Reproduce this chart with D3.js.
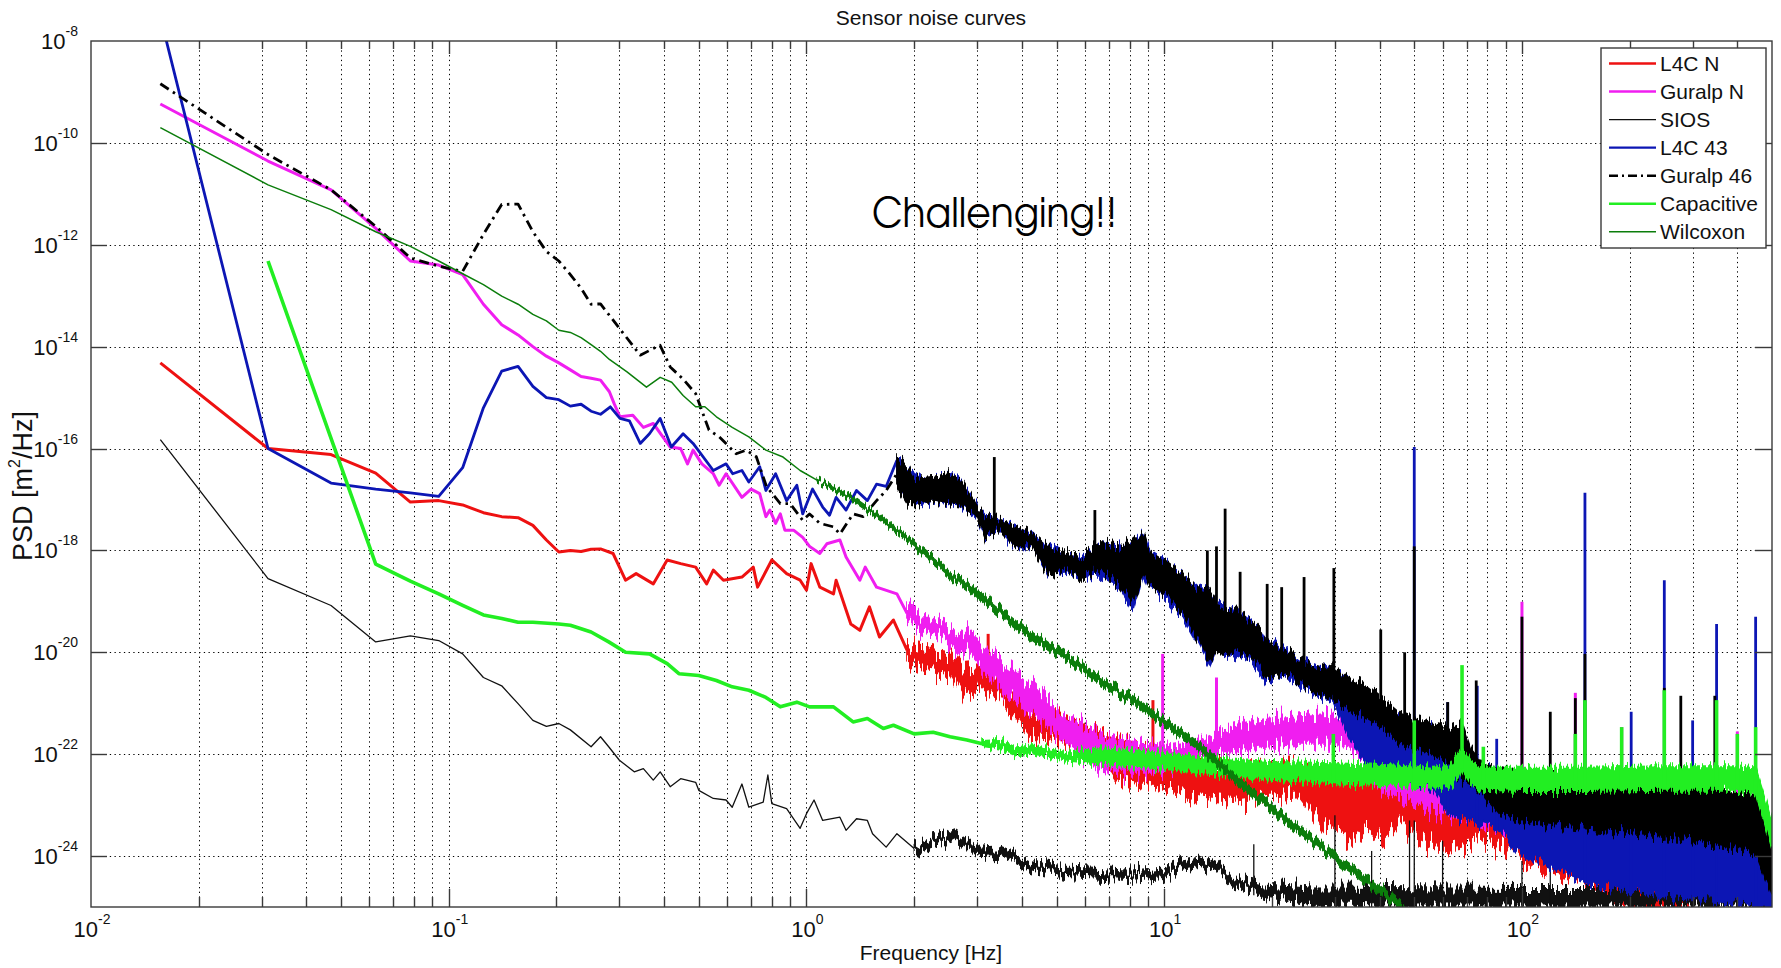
<!DOCTYPE html>
<html>
<head>
<meta charset="utf-8">
<script src="https://cdn.jsdelivr.net/npm/d3@7"></script>
<style>
  html, body { margin: 0; padding: 0; background: #ffffff; }
  svg { display: block; font-family: "Liberation Sans", Arial, Helvetica, sans-serif; }
</style>
</head>
<body>
<svg id="chart" width="1781" height="968"></svg>
<script>
// ---------------------------------------------------------------------------
// Sensor noise PSD curves. Each sensor has:
//   *Trace  : [frequency Hz, PSD m^2/Hz] – the resolved low-frequency trace
//   *Band   : [frequency Hz, low PSD, high PSD] – extent of the dense noisy trace
//   *Spikes : [frequency Hz, peak PSD] – narrow lines rising out of the band
// ---------------------------------------------------------------------------

const seriesNames = ["L4C N", "Guralp N", "SIOS", "L4C 43", "Guralp 46", "Capacitive", "Wilcoxon"];

const xTickValues = [0.01, 0.1, 1, 10, 100];
const yTickValues = [1e-24, 1e-22, 1e-20, 1e-18, 1e-16, 1e-14, 1e-12, 1e-10, 1e-8];

// L4C N
const l4cNTrace = [
  [0.015625, 4.8e-15], [0.03125, 1.0e-16], [0.046875, 7.6e-17], [0.0625, 3.3e-17],
  [0.078125, 8.9e-18], [0.09375, 9.5e-18], [0.109375, 7.8e-18], [0.125, 5.5e-18],
  [0.140625, 4.6e-18], [0.15625, 4.4e-18], [0.171875, 3.1e-18], [0.1875, 1.6e-18],
  [0.203125, 9.3e-19], [0.21875, 1.0e-18], [0.234375, 9.5e-19], [0.25, 1.05e-18],
  [0.265625, 1.07e-18], [0.288, 8.7e-19], [0.312, 2.6e-19], [0.334, 3.5e-19],
  [0.373, 2.2e-19], [0.408, 6.5e-19], [0.445, 5.5e-19], [0.49, 4.7e-19],
  [0.526, 2.2e-19], [0.549, 4.1e-19], [0.586, 2.6e-19], [0.66, 3.0e-19],
  [0.71, 4.7e-19], [0.73, 1.9e-19], [0.80, 6.5e-19], [0.88, 3.5e-19],
  [0.96, 2.6e-19], [1.0, 1.66e-19], [1.03, 5.5e-19], [1.09, 1.9e-19],
  [1.19, 1.4e-19], [1.21, 2.6e-19], [1.33, 3.6e-20], [1.41, 2.7e-20],
  [1.5, 7.8e-20], [1.6, 2.0e-20], [1.75, 4.3e-20], [1.91, 1.1e-20]
];
const l4cNBand = [
  [1.91, 7.1e-21, 1.4e-20], [2.04, 5.0e-21, 1.26e-20], [2.52, 3.8e-21, 9.5e-21],
  [2.75, 1.4e-21, 4.5e-21], [3.1, 1.8e-21, 5.0e-21], [3.46, 1.26e-21, 2.8e-21],
  [4.2, 2.2e-22, 7.1e-22], [5.29, 1.9e-22, 4.5e-22], [6.61, 1.0e-22, 2.8e-22],
  [7.3, 3.2e-23, 2.0e-22], [9.1, 2.5e-23, 1.26e-22], [10.15, 2.0e-23, 8.9e-23],
  [12.6, 1.4e-23, 7.1e-23], [15.6, 1.2e-23, 5.6e-23], [19.3, 1.5e-23, 6.0e-23],
  [23.9, 1.7e-23, 6.0e-23], [28, 4.0e-24, 5.0e-23], [33, 2.0e-24, 3.2e-23],
  [36.8, 3.4e-24, 3.2e-23], [41, 2.2e-24, 4.0e-23], [45.6, 4.5e-24, 5.0e-23],
  [50.8, 2.5e-24, 5.6e-23], [56.5, 1.8e-24, 4.5e-23], [62.9, 1.6e-24, 3.5e-23],
  [70, 1.8e-24, 1.8e-23], [78, 2.0e-24, 7.0e-24], [86.8, 1.8e-24, 8.0e-24],
  [100, 7.0e-25, 8.0e-24], [120, 5.0e-25, 7.0e-24], [150, 3.5e-25, 4.0e-24],
  [180, 1.8e-25, 1.5e-24], [230, 1.0e-25, 6.0e-25], [300, 1.0e-25, 1.0e-25]
];
const l4cNSpikes = [[3.22, 2.3e-20], [9.3, 1.15e-21]];

// Guralp N
const guralpNTrace = [
  [0.015625, 5.8e-10], [0.03125, 4.4e-11], [0.046875, 1.2e-11], [0.0625, 2.1e-12],
  [0.078125, 4.8e-13], [0.09375, 4.0e-13], [0.109375, 2.6e-13], [0.125, 6.8e-14],
  [0.140625, 2.7e-14], [0.15625, 1.7e-14], [0.171875, 1.0e-14], [0.1875, 6.5e-15],
  [0.203125, 4.8e-15], [0.21875, 3.5e-15], [0.234375, 2.6e-15], [0.25, 2.4e-15],
  [0.265625, 2.2e-15], [0.28125, 1.3e-15], [0.29, 7.6e-16], [0.301, 4.2e-16],
  [0.327, 4.5e-16], [0.350, 2.6e-16], [0.373, 3.1e-16], [0.416, 1.07e-16],
  [0.445, 1.0e-16], [0.465, 5.0e-17], [0.482, 9.3e-17], [0.51, 5.0e-17],
  [0.549, 3.2e-17], [0.57, 1.9e-17], [0.596, 3.2e-17], [0.66, 1.1e-17],
  [0.70, 1.6e-17], [0.74, 1.3e-17], [0.77, 4.6e-18], [0.79, 6.2e-18],
  [0.82, 3.4e-18], [0.845, 5.2e-18], [0.87, 2.5e-18], [0.92, 2.5e-18],
  [0.976, 1.8e-18], [1.02, 1.2e-18], [1.09, 8.7e-19], [1.14, 1.35e-18],
  [1.24, 1.6e-18], [1.29, 7.4e-19], [1.41, 2.6e-19], [1.46, 4.7e-19],
  [1.57, 1.9e-19], [1.79, 1.4e-19], [1.91, 5.8e-20]
];
const guralpNBand = [
  [1.91, 4.5e-20, 8.9e-20], [2.0, 3.8e-20, 8.3e-20], [2.26, 2.2e-20, 4.0e-20],
  [2.81, 1.0e-20, 2.5e-20], [3.46, 2.0e-21, 7.1e-21], [4.27, 6.3e-22, 2.5e-21],
  [5.29, 1.8e-22, 5.6e-22], [6.61, 5.0e-23, 2.5e-22], [7.3, 4.5e-23, 2.0e-22],
  [9.1, 4.5e-23, 1.6e-22], [10.15, 5.0e-23, 1.4e-22], [12.6, 8.9e-23, 1.8e-22],
  [15.6, 1.1e-22, 3.5e-22], [19.3, 1.4e-22, 5.0e-22], [23.9, 1.6e-22, 5.6e-22],
  [29.7, 1.6e-22, 6.3e-22], [33, 1.4e-22, 4.0e-22], [36.8, 6.3e-23, 1.8e-22],
  [41, 2.0e-23, 8.0e-23], [50, 1.0e-23, 4.0e-23], [70, 6.3e-24, 2.5e-23],
  [100, 2.5e-24, 1.6e-23], [150, 1.26e-24, 1.0e-23], [200, 8.0e-25, 8.0e-24],
  [300, 5.0e-25, 6.3e-24], [450, 3.2e-25, 5.0e-24], [500, 1.6e-25, 2.5e-24]
];
const guralpNSpikes = [[9.9, 9.3e-21], [14, 3.2e-21], [100, 9.8e-20], [141, 1.6e-21], [190, 3.4e-22], [400, 2.8e-22]];

// SIOS
const siosTrace = [
  [0.015625, 1.5e-16], [0.03125, 2.8e-19], [0.046875, 8.3e-20], [0.0625, 1.6e-20],
  [0.078125, 2.1e-20], [0.09375, 1.7e-20], [0.109375, 9.3e-21], [0.125, 3.2e-21],
  [0.140625, 2.2e-21], [0.15625, 9.8e-22], [0.171875, 4.6e-22], [0.1875, 3.5e-22],
  [0.203125, 4.0e-22], [0.21875, 3.0e-22], [0.25, 1.4e-22], [0.265625, 2.2e-22],
  [0.28, 1.4e-22], [0.30, 7.6e-23], [0.33, 4.5e-23], [0.35, 5.2e-23],
  [0.373, 3.1e-23], [0.39, 4.5e-23], [0.416, 2.3e-23], [0.445, 3.3e-23],
  [0.49, 2.8e-23], [0.50, 1.95e-23], [0.549, 1.35e-23], [0.596, 1.26e-23],
  [0.62, 9.1e-24], [0.66, 2.6e-23], [0.69, 9.1e-24], [0.757, 1.15e-23],
  [0.78, 3.9e-23], [0.80, 1.07e-23], [0.88, 8.5e-24], [0.96, 3.5e-24],
  [1.0, 6.8e-24], [1.05, 1.26e-23], [1.11, 5.0e-24], [1.24, 5.8e-24],
  [1.29, 3.2e-24], [1.38, 5.4e-24], [1.48, 5.0e-24], [1.53, 2.75e-24],
  [1.67, 1.5e-24], [1.79, 2.75e-24], [2.0, 1.4e-24]
];
const siosBand = [
  [2.0, 1.17e-24, 1.7e-24], [2.26, 1.6e-24, 2.3e-24], [2.56, 2.2e-24, 3.3e-24],
  [2.81, 1.5e-24, 2.1e-24], [3.04, 9.3e-25, 1.35e-24], [3.46, 1.0e-24, 1.45e-24],
  [4.27, 5.6e-25, 8.1e-25], [5.29, 4.0e-25, 5.8e-25], [6.61, 3.7e-25, 5.4e-25],
  [8, 3.5e-25, 5.0e-25], [10, 4.0e-25, 5.8e-25], [11.3, 5.6e-25, 8.1e-25],
  [12.6, 6.3e-25, 9.1e-25], [14, 4.7e-25, 6.8e-25], [15.6, 2.6e-25, 3.8e-25],
  [19, 1.7e-25, 2.8e-25], [25, 1.1e-25, 2.5e-25], [40, 1.0e-25, 2.4e-25],
  [100, 1.0e-25, 2.3e-25], [200, 1.0e-25, 2.3e-25], [500, 1.0e-25, 2.0e-25]
];
const siosSpikes = [[17.8, 1.7e-24], [30, 6.3e-24], [38, 1.26e-24], [48.5, 5.0e-24], [50, 5.0e-24], [60, 2.0e-24], [100, 8.0e-25], [120, 1.0e-24]];

// L4C 43
const l4c43Trace = [
  [0.015625, 3.0e-8], [0.03125, 1.0e-16], [0.046875, 2.1e-17], [0.0625, 1.6e-17],
  [0.078125, 1.35e-17], [0.09375, 1.15e-17], [0.109375, 4.2e-17], [0.125, 6.3e-16],
  [0.140625, 3.3e-15], [0.15625, 4.1e-15], [0.171875, 1.66e-15], [0.1875, 1.0e-15],
  [0.203125, 9.1e-16], [0.21875, 6.8e-16], [0.234375, 7.4e-16], [0.25, 5.4e-16],
  [0.265625, 4.7e-16], [0.283, 6.6e-16], [0.301, 3.9e-16], [0.320, 3.5e-16],
  [0.343, 1.26e-16], [0.364, 1.95e-16], [0.390, 3.9e-16], [0.419, 1.07e-16],
  [0.452, 1.95e-16], [0.482, 1.26e-16], [0.549, 3.7e-17], [0.596, 5.0e-17],
  [0.622, 3.2e-17], [0.66, 3.7e-17], [0.69, 2.2e-17], [0.74, 4.4e-17],
  [0.77, 1.5e-17], [0.82, 3.2e-17], [0.88, 9.5e-18], [0.94, 1.9e-17],
  [0.976, 5.2e-18], [1.04, 1.6e-17], [1.11, 7.1e-18], [1.16, 4.9e-18],
  [1.21, 1.1e-17], [1.29, 6.2e-18], [1.38, 1.5e-17], [1.48, 9.5e-18],
  [1.57, 2.0e-17], [1.67, 1.8e-17], [1.79, 5.9e-17]
];
const l4c43Band = [
  [1.79, 2.5e-17, 6.3e-17], [1.91, 1.0e-17, 4.4e-17], [2.13, 8.3e-18, 2.4e-17],
  [2.26, 9.5e-18, 2.4e-17], [2.52, 8.3e-18, 3.2e-17], [2.69, 7.9e-18, 2.4e-17],
  [2.81, 6.2e-18, 1.5e-17], [3.0, 4.6e-18, 7.1e-18], [3.17, 1.8e-18, 4.6e-18],
  [3.46, 2.5e-18, 3.9e-18], [3.84, 1.2e-18, 2.9e-18], [4.27, 1.2e-18, 2.1e-18],
  [4.75, 3.5e-19, 1.2e-18], [5.29, 4.0e-19, 8.7e-19], [5.88, 3.0e-19, 7.4e-19],
  [6.61, 3.2e-19, 1.35e-18], [7.52, 1.9e-19, 1.2e-18], [8.19, 6.6e-20, 1.35e-18],
  [8.74, 3.9e-19, 2.4e-18], [9.12, 1.8e-19, 8.9e-19], [10.15, 1.15e-19, 5.6e-19],
  [11.3, 4.8e-20, 3.1e-19], [12.6, 1.25e-20, 1.7e-19], [13.4, 5.2e-21, 1.5e-19],
  [14.0, 1.1e-20, 9.5e-20], [15.6, 9.1e-21, 7.0e-20], [17.4, 6.7e-21, 3.8e-20],
  [18.6, 3.7e-21, 3.0e-20], [19.3, 2.6e-21, 1.8e-20], [21.5, 3.7e-21, 1.2e-20],
  [23.9, 2.3e-21, 7.2e-21], [26.7, 1.5e-21, 5.4e-21], [29.7, 1.05e-21, 4.6e-21],
  [33, 2.0e-22, 2.5e-21], [36.8, 6.3e-23, 1.0e-21], [41, 5.0e-23, 6.3e-22],
  [45.6, 4.0e-23, 5.0e-22], [50.8, 2.5e-23, 4.0e-22], [56.5, 2.0e-23, 3.2e-22],
  [62.9, 6.3e-24, 2.0e-22], [70, 5.0e-24, 1.0e-22], [86.8, 3.2e-24, 4.0e-23],
  [100, 1.0e-24, 2.5e-23], [120, 6.3e-25, 1.6e-23], [150, 3.2e-25, 1.0e-23],
  [190, 2.0e-25, 8.0e-24], [250, 1.6e-25, 6.3e-24], [350, 1.3e-25, 4.0e-24],
  [450, 1.0e-25, 2.5e-24], [500, 1.0e-25, 5.0e-25]
];
const l4c43Spikes = [[50, 1.07e-16], [62, 1.05e-21], [75, 2.2e-21], [85, 2.0e-22], [150, 1.35e-17],
  [202, 6.8e-22], [250, 2.6e-19], [300, 4.6e-22], [350, 3.6e-20], [450, 5.0e-20]];

// Guralp 46
const guralp46Trace = [
  [0.015625, 1.45e-9], [0.03125, 5.9e-11], [0.046875, 1.2e-11], [0.0625, 2.3e-12],
  [0.078125, 5.5e-13], [0.09375, 3.8e-13], [0.109375, 3.0e-13], [0.125, 1.6e-12],
  [0.140625, 6.2e-12], [0.15625, 6.3e-12], [0.171875, 1.8e-12], [0.1875, 7.4e-13],
  [0.203125, 4.8e-13], [0.21875, 2.6e-13], [0.234375, 1.4e-13], [0.25, 6.8e-14],
  [0.265625, 6.9e-14], [0.343, 6.8e-15], [0.3895, 1.07e-14], [0.416, 4.0e-15],
  [0.452, 2.3e-15], [0.49, 1.2e-15], [0.534, 2.3e-16], [0.57, 1.7e-16],
  [0.636, 7.9e-17], [0.679, 9.3e-17], [0.724, 6.9e-17], [0.773, 1.8e-17],
  [0.845, 8.3e-18], [0.90, 8.3e-18], [0.976, 3.9e-18], [1.02, 5.2e-18],
  [1.09, 3.4e-18], [1.19, 2.9e-18], [1.24, 2.1e-18], [1.35, 5.2e-18],
  [1.44, 4.6e-18], [1.57, 9.5e-18], [1.67, 1.5e-17], [1.79, 3.2e-17]
];
const guralp46Band = [
  [1.79, 1.8e-17, 6.3e-17], [1.91, 8.3e-18, 4.4e-17], [2.0, 7.9e-18, 2.5e-17],
  [2.26, 9.5e-18, 2.8e-17], [2.52, 8.3e-18, 3.2e-17], [2.69, 7.9e-18, 2.4e-17],
  [2.81, 6.2e-18, 1.5e-17], [3.0, 4.6e-18, 7.1e-18], [3.17, 1.8e-18, 4.6e-18],
  [3.46, 2.5e-18, 3.9e-18], [3.84, 1.2e-18, 2.9e-18], [4.27, 1.2e-18, 2.1e-18],
  [4.75, 3.5e-19, 1.2e-18], [5.29, 4.0e-19, 8.7e-19], [5.88, 3.0e-19, 7.4e-19],
  [6.61, 4.0e-19, 1.35e-18], [7.52, 2.2e-19, 1.2e-18], [8.19, 1.0e-19, 1.6e-18],
  [8.74, 3.9e-19, 2.2e-18], [9.12, 2.1e-19, 8.9e-19], [10.15, 1.3e-19, 5.6e-19],
  [11.3, 5.2e-20, 3.1e-19], [12.6, 1.7e-20, 1.7e-19], [13.4, 6.6e-21, 1.5e-19],
  [14.0, 1.15e-20, 9.5e-20], [15.6, 1.05e-20, 7.0e-20], [17.4, 8.3e-21, 3.8e-20],
  [19.3, 3.3e-21, 1.8e-20], [21.5, 4.1e-21, 1.2e-20], [23.9, 2.6e-21, 7.2e-21],
  [26.7, 1.65e-21, 5.4e-21], [29.7, 1.15e-21, 4.6e-21], [33, 7.0e-22, 3.0e-21],
  [36.8, 5.2e-22, 2.2e-21], [41, 3.3e-22, 1.2e-21], [45.6, 1.6e-22, 6.3e-22],
  [50.8, 1.26e-22, 5.0e-22], [56.5, 1.0e-22, 4.0e-22], [62.9, 6.3e-23, 3.2e-22],
  [68, 3.2e-23, 4.0e-22], [72, 2.5e-23, 1.26e-22], [78, 1.6e-23, 6.3e-23],
  [86.8, 6.3e-24, 5.0e-23], [100, 5.0e-24, 4.0e-23], [150, 3.5e-24, 3.2e-23],
  [200, 2.8e-24, 3.2e-23], [300, 2.0e-24, 2.5e-23], [450, 1.1e-24, 1.6e-23],
  [500, 1.6e-25, 3.2e-24]
];
const guralp46Spikes = [[3.35, 6.8e-17], [6.4, 6.2e-18], [13.2, 1.0e-18], [14.0, 1.2e-18], [14.8, 6.6e-18],
  [16.3, 3.8e-19], [19.4, 2.2e-19], [21.3, 1.9e-19], [24.6, 3.0e-19], [29.8, 4.5e-19],
  [40.3, 2.8e-20], [47, 1.0e-20], [50, 1.2e-18], [62, 1.05e-21], [74.5, 2.8e-21],
  [100, 5.0e-20], [120, 6.8e-22], [141, 1.26e-21], [150, 9.3e-21], [250, 2.0e-21],
  [278, 1.4e-21], [346, 1.4e-21], [450, 3.2e-22]];

// Capacitive
const capacitiveTrace = [
  [0.03125, 4.8e-13], [0.0625, 5.4e-19], [0.078125, 2.5e-19], [0.09375, 1.4e-19],
  [0.109375, 8.3e-20], [0.125, 5.4e-20], [0.140625, 4.6e-20], [0.15625, 3.9e-20],
  [0.171875, 3.9e-20], [0.203125, 3.6e-20], [0.21875, 3.4e-20], [0.25, 2.5e-20],
  [0.28, 1.6e-20], [0.312, 1.0e-20], [0.364, 9.3e-21], [0.408, 6.0e-21],
  [0.44, 3.8e-21], [0.50, 3.5e-21], [0.56, 2.8e-21], [0.62, 2.1e-21],
  [0.69, 1.8e-21], [0.77, 1.3e-21], [0.845, 8.5e-22], [0.94, 1.05e-21],
  [1.02, 8.5e-22], [1.19, 8.5e-22], [1.35, 4.3e-22], [1.48, 5.0e-22],
  [1.64, 3.2e-22], [1.75, 3.7e-22], [2.0, 2.5e-22], [2.26, 2.7e-22],
  [2.52, 2.2e-22], [2.81, 1.9e-22], [3.1, 1.6e-22]
];
const capacitiveBand = [
  [3.1, 1.45e-22, 1.8e-22], [3.46, 1.3e-22, 1.9e-22], [3.84, 9.5e-23, 1.35e-22],
  [4.27, 1.05e-22, 1.5e-22], [5.29, 7.5e-23, 1.05e-22], [6.61, 6.6e-23, 1.3e-22],
  [8, 5.8e-23, 1.2e-22], [10, 5.2e-23, 1.05e-22], [13, 4.2e-23, 8.5e-23],
  [19.3, 3.2e-23, 7.1e-23], [30, 2.7e-23, 6.6e-23], [45, 2.4e-23, 6.0e-23],
  [56.5, 2.2e-23, 5.4e-23], [63, 2.4e-23, 6.0e-23], [66, 3.4e-23, 9.5e-23],
  [68, 5.2e-23, 1.3e-22], [72, 2.6e-23, 7.1e-23], [78, 2.0e-23, 5.4e-23],
  [100, 1.9e-23, 5.4e-23], [150, 1.9e-23, 5.4e-23], [250, 2.0e-23, 5.8e-23],
  [400, 2.0e-23, 5.8e-23], [450, 1.7e-23, 5.2e-23], [475, 5.5e-24, 1.6e-23],
  [500, 1.6e-24, 5.0e-24]
];
const capacitiveSpikes = [[29.7, 2.5e-22], [50, 4.6e-22], [68, 5.6e-21], [78, 1.4e-22], [141, 2.5e-22],
  [150, 1.15e-21], [190, 3.4e-22], [250, 1.8e-21], [350, 1.15e-21], [400, 2.5e-22], [450, 3.4e-22]];

// Wilcoxon
const wilcoxonTrace = [
  [0.015625, 2.0e-10], [0.03125, 1.5e-11], [0.046875, 4.9e-12], [0.0625, 1.8e-12],
  [0.078125, 9.3e-13], [0.09375, 4.8e-13], [0.109375, 2.7e-13], [0.125, 1.65e-13],
  [0.140625, 9.8e-14], [0.15625, 6.8e-14], [0.171875, 4.3e-14], [0.1875, 3.2e-14],
  [0.203125, 2.1e-14], [0.21875, 1.9e-14], [0.234375, 1.5e-14], [0.25, 1.1e-14],
  [0.265625, 8.1e-15], [0.28125, 5.6e-15], [0.315, 3.2e-15], [0.357, 1.6e-15],
  [0.39, 2.5e-15], [0.42, 2.0e-15], [0.452, 1.1e-15], [0.49, 6.6e-16],
  [0.52, 6.6e-16], [0.56, 4.2e-16], [0.62, 2.6e-16], [0.69, 1.7e-16],
  [0.77, 9.3e-17], [0.86, 6.8e-17], [0.96, 3.7e-17], [1.07, 2.4e-17]
];
const wilcoxonBand = [
  [1.07, 2.2e-17, 2.6e-17], [1.33, 1.0e-17, 1.23e-17], [1.64, 3.5e-18, 4.4e-18],
  [2.04, 1.02e-18, 1.34e-18], [2.52, 2.9e-19, 4.0e-19], [3.1, 1.02e-19, 1.48e-19],
  [3.84, 3.0e-20, 4.4e-20], [4.75, 1.07e-20, 1.55e-20], [5.88, 4.25e-21, 6.2e-21],
  [6.61, 2.35e-21, 3.4e-21], [8.19, 9.5e-22, 1.38e-21], [10.15, 3.3e-22, 4.8e-22],
  [12.6, 1.15e-22, 1.66e-22], [15.6, 2.95e-23, 4.3e-23], [19.3, 8.9e-24, 1.3e-23],
  [23.9, 2.7e-24, 3.9e-24], [29.7, 7.9e-25, 1.15e-24], [36.8, 2.75e-25, 4.0e-25],
  [43.6, 1.1e-25, 1.6e-25], [47, 7.5e-26, 1.05e-25]
];
const wilcoxonSpikes = [];

// Per-sensor drawing style (jitter = roughness of the dense noise band outline, in px)
const seriesStyle = {
  "L4C N":      { color: "#ee1111", width: 3.0, dash: null, jitter: 44, seed: 3 },
  "Guralp N":   { color: "#f01ef0", width: 3.0, dash: null, jitter: 40, seed: 11 },
  "SIOS":       { color: "#111111", width: 1.3, dash: null, jitter: 26, seed: 5 },
  "L4C 43":     { color: "#0c16b4", width: 2.8, dash: null, jitter: 24, seed: 17 },
  "Guralp 46":  { color: "#000000", width: 2.8, dash: "10,5,2.5,5", jitter: 24, seed: 23 },
  "Capacitive": { color: "#22ee22", width: 3.6, dash: null, jitter: 20, seed: 29 },
  "Wilcoxon":   { color: "#0b7d0b", width: 1.5, dash: null, jitter: 16, seed: 31 }
};

const seriesTable = [
  { name: seriesNames[0], trace: l4cNTrace,       band: l4cNBand,       spikes: l4cNSpikes },
  { name: seriesNames[1], trace: guralpNTrace,    band: guralpNBand,    spikes: guralpNSpikes },
  { name: seriesNames[2], trace: siosTrace,       band: siosBand,       spikes: siosSpikes },
  { name: seriesNames[3], trace: l4c43Trace,      band: l4c43Band,      spikes: l4c43Spikes },
  { name: seriesNames[4], trace: guralp46Trace,   band: guralp46Band,   spikes: guralp46Spikes },
  { name: seriesNames[5], trace: capacitiveTrace, band: capacitiveBand, spikes: capacitiveSpikes },
  { name: seriesNames[6], trace: wilcoxonTrace,   band: wilcoxonBand,   spikes: wilcoxonSpikes }
];

// ---------------------------------------------------------------------------
const plot = { left: 91, right: 1772, top: 41, bottom: 907 };
const svg = d3.select("#chart");

const x = d3.scaleLog().domain([0.01, 500]).range([plot.left, plot.right]);
const y = d3.scaleLog().domain([1e-25, 1e-8]).range([plot.bottom, plot.top]);

const defs = svg.append("defs");
defs.append("clipPath").attr("id", "plotClip")
  .append("rect")
  .attr("x", plot.left).attr("y", plot.top)
  .attr("width", plot.right - plot.left).attr("height", plot.bottom - plot.top);

// Vertical roughening of the noise bands: a column-wise displacement map
function roughFilter(id, scale, seed) {
  const f = defs.append("filter").attr("id", id)
    .attr("filterUnits", "userSpaceOnUse")
    .attr("x", plot.left - 20).attr("y", plot.top - 60)
    .attr("width", plot.right - plot.left + 40).attr("height", plot.bottom - plot.top + 120)
    .attr("color-interpolation-filters", "sRGB");
  f.append("feTurbulence").attr("type", "fractalNoise")
    .attr("baseFrequency", "0.42 0.004").attr("numOctaves", 2).attr("seed", seed)
    .attr("result", "noise");
  f.append("feColorMatrix").attr("in", "noise").attr("type", "matrix")
    .attr("values", "0 0 0 0 0.5  0 1 0 0 0  0 0 1 0 0  0 0 0 0 1")
    .attr("result", "map");
  f.append("feDisplacementMap").attr("in", "SourceGraphic").attr("in2", "map")
    .attr("scale", scale).attr("xChannelSelector", "R").attr("yChannelSelector", "G");
}

// Grid (dotted)
const grid = svg.append("g").attr("class", "grid")
  .attr("stroke", "#000").attr("stroke-width", 1).attr("stroke-dasharray", "1.3,3.4");
const xGrid = x.ticks().filter(v => v > 0.0100001 && v < 499.9);
grid.selectAll("line.vx").data(xGrid).join("line")
  .attr("x1", d => Math.round(x(d)) + 0.5).attr("x2", d => Math.round(x(d)) + 0.5)
  .attr("y1", plot.top).attr("y2", plot.bottom);
grid.selectAll("line.hy").data(yTickValues.filter(v => v > 1.0001e-25 && v < 0.9999e-8)).join("line")
  .attr("x1", plot.left).attr("x2", plot.right)
  .attr("y1", d => Math.round(y(d)) + 0.5).attr("y2", d => Math.round(y(d)) + 0.5);

// Data
const dataLayer = svg.append("g").attr("clip-path", "url(#plotClip)");
const traceLine = d3.line().x(d => x(d[0])).y(d => y(d[1]));
const bandArea = d3.area().x(d => x(d[0])).y0(d => y(d[1])).y1(d => y(d[2]));
const nearestBand = d3.bisector(d => d[0]).center;

seriesTable.forEach((s, i) => {
  const st = seriesStyle[s.name];
  const fid = "rough" + i;
  roughFilter(fid, st.jitter, st.seed);
  const g = dataLayer.append("g").attr("class", "series");
  g.append("path").datum(s.band)
    .attr("d", bandArea)
    .attr("fill", st.color)
    .attr("stroke", st.color)
    .attr("stroke-width", Math.max(1.2, st.width * 0.6))
    .attr("stroke-linejoin", "round")
    .attr("filter", `url(#${fid})`);
  g.append("path").datum(s.trace)
    .attr("d", traceLine)
    .attr("fill", "none")
    .attr("stroke", st.color)
    .attr("stroke-width", st.width)
    .attr("stroke-linejoin", "round")
    .attr("stroke-dasharray", st.dash);
  g.selectAll("line.spike").data(s.spikes).join("line")
    .attr("class", "spike")
    .attr("x1", d => x(d[0])).attr("x2", d => x(d[0]))
    .attr("y1", d => y(s.band[nearestBand(s.band, d[0])][1]))
    .attr("y2", d => y(d[1]))
    .attr("stroke", st.color)
    .attr("stroke-width", Math.max(1.2, st.width));
});

// Axes frame and ticks
const axisColor = "#3a3a3a";
const axes = svg.append("g").attr("stroke", axisColor).attr("stroke-width", 1.4);
const isDecade = v => Math.abs(Math.log10(v) - Math.round(Math.log10(v))) < 1e-9;
const xTickAll = x.ticks().filter(v => v > 0.0100001 && v < 499.9);
axes.selectAll("line.xtb").data(xTickAll).join("line")
  .attr("x1", d => Math.round(x(d)) + 0.5).attr("x2", d => Math.round(x(d)) + 0.5)
  .attr("y1", plot.bottom)
  .attr("y2", d => plot.bottom - (isDecade(d) ? 18 : 10));
axes.selectAll("line.xtt").data(xTickAll).join("line")
  .attr("x1", d => Math.round(x(d)) + 0.5).attr("x2", d => Math.round(x(d)) + 0.5)
  .attr("y1", plot.top)
  .attr("y2", d => plot.top + (isDecade(d) ? 13 : 8));
const yInner = yTickValues.filter(v => v > 1.0001e-25 && v < 0.9999e-8);
axes.selectAll("line.ytl").data(yInner).join("line")
  .attr("x1", plot.left).attr("x2", plot.left + 16)
  .attr("y1", d => Math.round(y(d)) + 0.5).attr("y2", d => Math.round(y(d)) + 0.5);
axes.selectAll("line.ytr").data(yInner).join("line")
  .attr("x1", plot.right).attr("x2", plot.right - 17)
  .attr("y1", d => Math.round(y(d)) + 0.5).attr("y2", d => Math.round(y(d)) + 0.5);
axes.append("rect")
  .attr("x", plot.left).attr("y", plot.top)
  .attr("width", plot.right - plot.left).attr("height", plot.bottom - plot.top)
  .attr("fill", "none");

// Tick labels: 10 with superscript exponent
function powerLabel(sel, v) {
  sel.append("tspan").text("10");
  sel.append("tspan").attr("font-size", 14).attr("dy", -13).text(String(Math.round(Math.log10(v))));
}
svg.append("g").selectAll("text").data(yTickValues).join("text")
  .attr("x", 78).attr("y", d => y(d) + 8)
  .attr("text-anchor", "end").attr("font-size", 22).attr("fill", "#111")
  .each(function (d) { powerLabel(d3.select(this), d); });
svg.append("g").selectAll("text").data(xTickValues).join("text")
  .attr("x", d => x(d) + 1).attr("y", 937)
  .attr("text-anchor", "middle").attr("font-size", 22).attr("fill", "#111")
  .each(function (d) { powerLabel(d3.select(this), d); });

// Titles
svg.append("text").attr("x", 931).attr("y", 25).attr("text-anchor", "middle")
  .attr("font-size", 21).attr("fill", "#111").text("Sensor noise curves");
svg.append("text").attr("x", 931).attr("y", 960).attr("text-anchor", "middle")
  .attr("font-size", 21).attr("fill", "#111").text("Frequency [Hz]");
const yLabel = svg.append("text").attr("transform", "translate(32,486) rotate(-90)")
  .attr("text-anchor", "middle").attr("font-size", 27).attr("fill", "#111");
yLabel.append("tspan").text("PSD [m");
yLabel.append("tspan").attr("font-size", 16).attr("dy", -12).text("2");
yLabel.append("tspan").attr("dy", 12).text("/Hz]");

// Annotation
svg.append("text").attr("x", 872).attr("y", 227)
  .attr("font-family", "'Century Gothic','URW Gothic','TeX Gyre Adventor',Lato,sans-serif")
  .attr("font-size", 41).attr("fill", "#000")
  .attr("textLength", 245).attr("lengthAdjust", "spacingAndGlyphs")
  .text("Challenging!!");

// Legend
const legend = svg.append("g");
legend.append("rect").attr("x", 1601).attr("y", 48).attr("width", 165).attr("height", 200)
  .attr("fill", "#fff").attr("stroke", axisColor).attr("stroke-width", 1.4);
const rows = legend.selectAll("g.row").data(seriesNames).join("g")
  .attr("transform", (d, i) => `translate(0, ${63.5 + i * 28.05})`);
rows.append("line").attr("x1", 1609).attr("x2", 1656).attr("y1", 0).attr("y2", 0)
  .attr("stroke", d => seriesStyle[d].color)
  .attr("stroke-width", d => Math.min(2.4, seriesStyle[d].width))
  .attr("stroke-dasharray", d => seriesStyle[d].dash ? "9,4,2,4" : null);
rows.append("text").attr("x", 1660).attr("y", 7.5).attr("font-size", 21).attr("fill", "#111")
  .text(d => d);
</script>
</body>
</html>
